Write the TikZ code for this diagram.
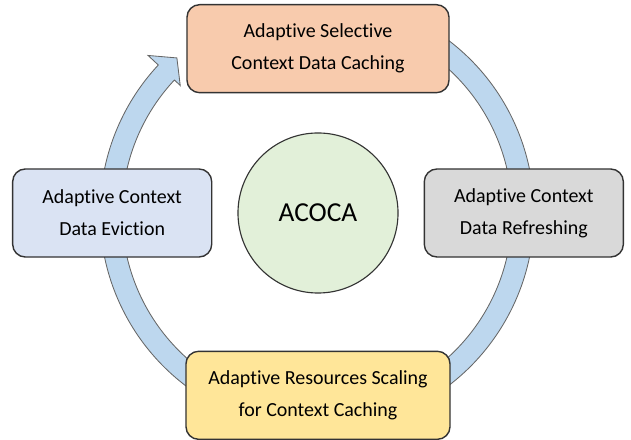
\documentclass[tikz,border=0pt]{standalone}
\usepackage{fontspec}
\setmainfont{Carlito}[Ligatures=NoCommon]
\usepackage{tikz}
\usetikzlibrary{positioning}

\definecolor{peach}{HTML}{F8CBAD}
\definecolor{greybox}{HTML}{D9D9D9}
\definecolor{goldbox}{HTML}{FFE699}
\definecolor{bluebox}{HTML}{DAE3F3}
\definecolor{greenhub}{HTML}{E2F0D9}
\definecolor{ringfill}{HTML}{BDD7EE}
\definecolor{edge}{HTML}{333333}

\begin{document}
\begin{tikzpicture}[
                x=0.025cm, y=0.025cm,
                stage/.style = {
                    draw=edge,
                    line width = 1pt,
                    rounded corners = 9pt,
                    align = center,
                    inner sep = 0pt,
                    font = \fontsize{14.2}{22.7}\selectfont,
                    minimum width = #1,
                    minimum height = 2.2cm
                },
                stage/.default = 6.55cm,
                hub/.style = {
                    draw=edge,
                    line width = 0.8pt,
                    circle,
                    fill = greenhub,
                    minimum size = 4cm,
                    inner sep = 0pt,
                    font = \fontsize{19.5}{22}\selectfont
                },
                ring/.style = {
                    draw = black!60,
                    line width = 0.6pt,
                    fill = ringfill
                }
            ]
            \useasboundingbox (0,0) rectangle (631,440);
            %
            % the cycle arrow, behind the boxes
            \coordinate (c) at (317,227);
            \begin{scope}[shift={(c)}]
            \draw[ring] (60:217) arc[start angle=60, end angle=-223, radius=217]
                -- (-223:231) -- (-227.9:209) -- (-223:187) -- (-223:195)
                arc[start angle=-223, end angle=60, radius=195] -- cycle;
            \end{scope}
            %
            \node[hub] (acoca) at (318,227) {ACOCA};
            %
            \node[stage, fill=peach] (cache) [above=0.975cm of acoca]
                {Adaptive Selective\\Context Data Caching};
            \node[stage=4.975cm, fill=greybox] (refresh) [right=0.625cm of acoca]
                {Adaptive Context\\Data Refreshing};
            \node[stage=6.6cm, fill=goldbox] (scale) [below=1.425cm of acoca]
                {Adaptive Resources Scaling\\for Context Caching};
            \node[stage=4.975cm, fill=bluebox] (evict) [left=0.625cm of acoca]
                {Adaptive Context\\Data Eviction};
            %
\end{tikzpicture}
\end{document}
